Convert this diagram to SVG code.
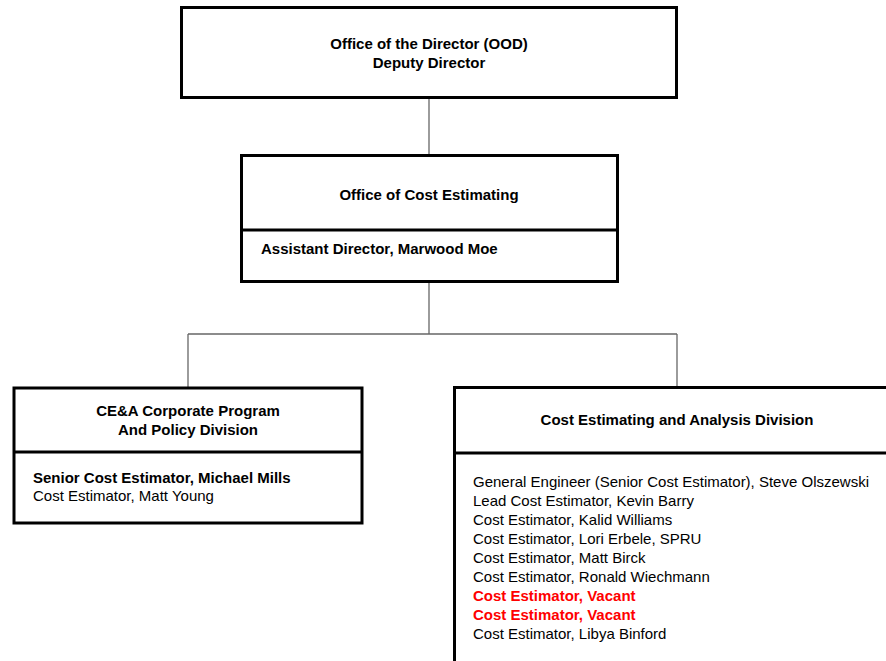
<svg xmlns="http://www.w3.org/2000/svg" width="886" height="661" viewBox="0 0 886 661">
<style>
.box{fill:#fff;stroke:#000;stroke-width:3}
.div{stroke:#000;stroke-width:3}
.con{stroke:#666;stroke-width:1.3;fill:none}
text{font-family:"Liberation Sans",Arial,sans-serif;font-size:15px;fill:#000}
.b{font-weight:bold}
.c{text-anchor:middle}
.red{fill:#ff0000;font-weight:bold}
</style>
<rect width="886" height="661" fill="#fff"/>
<g id="connectors">
<line class="con" x1="429" y1="99" x2="429" y2="154"/>
<line class="con" x1="429" y1="283" x2="429" y2="334"/>
<line class="con" x1="188" y1="334" x2="677" y2="334"/>
<line class="con" x1="188" y1="334" x2="188" y2="387"/>
<line class="con" x1="677" y1="334" x2="677" y2="386"/>
</g>
<g id="ood">
<rect class="box" x="181.5" y="7.5" width="495" height="90"/>
<text class="b c" x="429" y="49">Office of the Director (OOD)</text>
<text class="b c" x="429" y="68">Deputy Director</text>
</g>
<g id="oce">
<rect class="box" x="241.5" y="155.5" width="376" height="126"/>
<line class="div" x1="241.5" y1="230" x2="617.5" y2="230"/>
<text class="b c" x="429" y="200">Office of Cost Estimating</text>
<text class="b" x="261" y="254">Assistant Director, Marwood Moe</text>
</g>
<g id="cpp">
<rect class="box" x="14" y="388" width="348" height="135"/>
<line class="div" x1="14" y1="452" x2="362" y2="452"/>
<text class="b c" x="188" y="416">CE&amp;A Corporate Program</text>
<text class="b c" x="188" y="435">And Policy Division</text>
<text class="b" x="33" y="483">Senior Cost Estimator, Michael Mills</text>
<text x="33" y="501">Cost Estimator, Matt Young</text>
</g>
<g id="cead">
<rect class="box" x="454.5" y="387.5" width="460" height="300"/>
<line class="div" x1="454.5" y1="453" x2="914.5" y2="453"/>
<text class="b c" x="677" y="425">Cost Estimating and Analysis Division</text>
<text x="473" y="487">General Engineer (Senior Cost Estimator), Steve Olszewski</text>
<text x="473" y="506">Lead Cost Estimator, Kevin Barry</text>
<text x="473" y="525">Cost Estimator, Kalid Williams</text>
<text x="473" y="544">Cost Estimator, Lori Erbele, SPRU</text>
<text x="473" y="563">Cost Estimator, Matt Birck</text>
<text x="473" y="582">Cost Estimator, Ronald Wiechmann</text>
<text class="red" x="473" y="601">Cost Estimator, Vacant</text>
<text class="red" x="473" y="620">Cost Estimator, Vacant</text>
<text x="473" y="639">Cost Estimator, Libya Binford</text>
</g>
</svg>
